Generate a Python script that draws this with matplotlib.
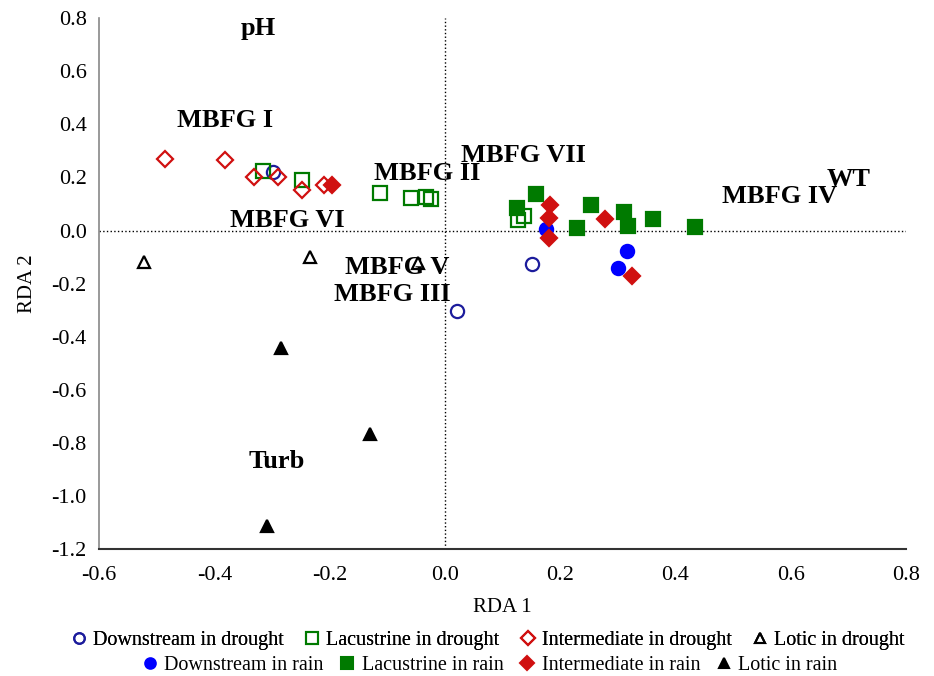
import matplotlib
matplotlib.use("Agg")
import matplotlib.pyplot as plt
from matplotlib.lines import Line2D

plt.rcParams['font.family'] = ['Liberation Serif', 'DejaVu Serif']
plt.rcParams['axes.unicode_minus'] = False

# site scores (RDA 1, RDA 2)
down_dry_x = [-0.298, 0.151, 0.021]
down_dry_y = [0.220, -0.128, -0.305]
lac_dry_x = [-0.316, -0.248, -0.113, -0.059, -0.033, -0.024, 0.127, 0.137]
lac_dry_y = [0.226, 0.190, 0.143, 0.124, 0.128, 0.117, 0.038, 0.053]
int_dry_x = [-0.486, -0.382, -0.331, -0.290, -0.248, -0.210]
int_dry_y = [0.271, 0.267, 0.200, 0.200, 0.154, 0.173]
lot_dry_x = [-0.522, -0.234, -0.047]
lot_dry_y = [-0.120, -0.098, -0.124]

down_rain_x = [0.175, 0.316, 0.300]
down_rain_y = [0.004, -0.079, -0.143]
lac_rain_x = [0.126, 0.158, 0.254, 0.311, 0.317, 0.229, 0.361, 0.434]
lac_rain_y = [0.083, 0.139, 0.098, 0.068, 0.018, 0.008, 0.045, 0.014]
int_rain_x = [-0.196, 0.182, 0.180, 0.180, 0.277, 0.324]
int_rain_y = [0.170, 0.095, 0.049, -0.030, 0.045, -0.171]
lot_rain_x = [-0.285, -0.130, -0.309]
lot_rain_y = [-0.444, -0.768, -1.112]

# variable / group labels
label_text = ["pH", "MBFG I", "MBFG II", "MBFG VII", "WT", "MBFG IV",
              "MBFG VI", "MBFG V", "MBFG III", "Turb"]
label_x = [-0.324, -0.382, -0.030, 0.137, 0.700, 0.580, -0.274, -0.082, -0.092, -0.291]
label_y = [0.760, 0.414, 0.215, 0.282, 0.192, 0.128, 0.038, -0.140, -0.241, -0.870]

navy = "#1c1c9c"
blue = "#0000ff"
green = "#007a00"
red = "#d01010"

series = [
    (down_dry_x, down_dry_y, "o", navy, "none", "Downstream in drought"),
    (lac_dry_x, lac_dry_y, "s", green, "none", "Lacustrine in drought"),
    (int_dry_x, int_dry_y, "D", red, "none", "Intermediate in drought"),
    (lot_dry_x, lot_dry_y, "^", "black", "none", "Lotic in drought"),
    (down_rain_x, down_rain_y, "o", blue, blue, "Downstream in rain"),
    (lac_rain_x, lac_rain_y, "s", green, green, "Lacustrine in rain"),
    (int_rain_x, int_rain_y, "D", red, red, "Intermediate in rain"),
    (lot_rain_x, lot_rain_y, "^", "black", "black", "Lotic in rain"),
]
sizes = {"o": 9.5, "s": 10, "D": 8.3, "^": 9}

fig = plt.figure(figsize=(9.34, 6.76), dpi=100)
ax = fig.add_axes([0.106, 0.188, 0.864, 0.785])

ax.axhline(0, color="black", linestyle=":", linewidth=1, zorder=1)
ax.axvline(0, color="black", linestyle=":", linewidth=1, zorder=1)

handles = []
for xs, ys, m, ec, fc, name in series:
    ax.plot(xs, ys, linestyle="none", marker=m, markersize=sizes[m],
            markeredgecolor=ec, markerfacecolor=fc, markeredgewidth=1.6, zorder=3)
    handles.append(Line2D([], [], linestyle="none", marker=m, markersize=sizes[m] * 0.8,
                          markeredgecolor=ec, markerfacecolor=fc, markeredgewidth=1.5,
                          label=name))

for t, x, y in zip(label_text, label_x, label_y):
    ax.text(x, y, t, fontsize=19, fontweight="bold", ha="center", va="center", zorder=4)

ax.set_xlim(-0.6, 0.8)
ax.set_ylim(-1.2, 0.8)
ax.set_xticks([-0.6, -0.4, -0.2, 0.0, 0.2, 0.4, 0.6, 0.8])
ax.set_yticks([-1.2, -1.0, -0.8, -0.6, -0.4, -0.2, 0.0, 0.2, 0.4, 0.6, 0.8])
ax.xaxis.set_major_formatter(matplotlib.ticker.StrMethodFormatter("{x:.1f}"))
ax.yaxis.set_major_formatter(matplotlib.ticker.StrMethodFormatter("{x:.1f}"))
ax.tick_params(length=0, labelsize=16)
ax.tick_params(axis="x", pad=12)
ax.tick_params(axis="y", pad=9)

ax.spines["top"].set_visible(False)
ax.spines["right"].set_visible(False)
ax.spines["left"].set_color("#888888")
ax.spines["bottom"].set_color("#333333")
ax.spines["left"].set_linewidth(1.2)
ax.spines["bottom"].set_linewidth(1.5)

ax.set_xlabel("RDA 1", fontsize=15, labelpad=10)
ax.set_ylabel("RDA 2", fontsize=15, labelpad=10)

leg1 = fig.legend(handles=handles[:4], loc="center", bbox_to_anchor=(0.52, 0.052),
                  ncol=4, frameon=False, fontsize=14.5, handletextpad=0.1,
                  columnspacing=0.8, handlelength=1.2, borderpad=0)
leg2 = fig.legend(handles=handles[4:], loc="center", bbox_to_anchor=(0.522, 0.015),
                  ncol=4, frameon=False, fontsize=14.5, handletextpad=0.1,
                  columnspacing=0.6, handlelength=1.2, borderpad=0)
fig.add_artist(leg1)

fig.savefig("out.png", dpi=100)
